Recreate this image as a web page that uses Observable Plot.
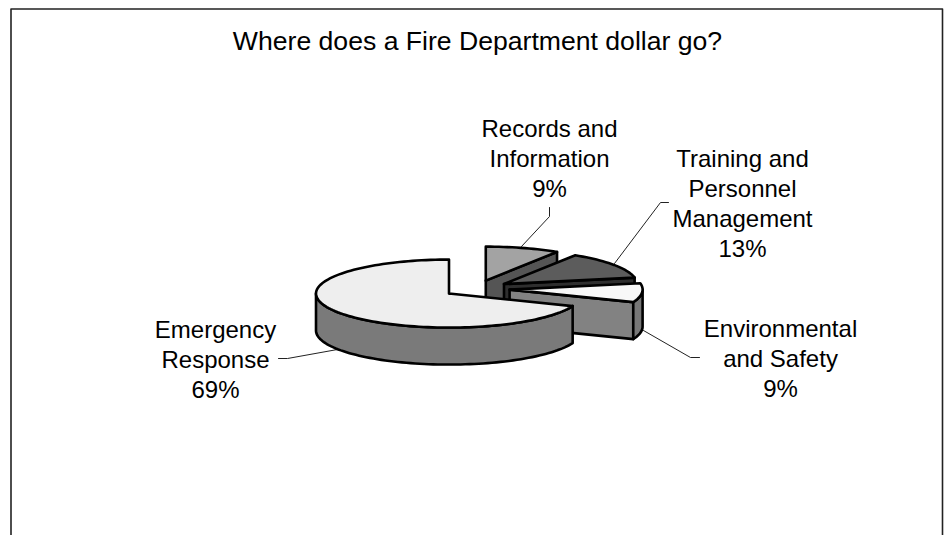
<!DOCTYPE html>
<html>
<head>
<meta charset="utf-8">
<script src="https://cdn.jsdelivr.net/npm/d3@7"></script>
<script src="https://cdn.jsdelivr.net/npm/@observablehq/plot@0.6"></script>
<style>
  html, body { margin: 0; padding: 0; background: #fff; }
  svg { display: block; }
</style>
</head>
<body>
<div id="chart"></div>
<script>
// Budget shares, clockwise from twelve o'clock
const categories = ["Records and\nInformation", "Training and\nPersonnel\nManagement", "Environmental\nand Safety", "Emergency\nResponse"];
const shares = [9, 13, 9, 69];
const chartTitle = "Where does a Fire Department dollar go?";

// Greys for each slice: top face, cut wall, rim wall
const topFills = ["#a3a3a3", "#5c5c5c", "#f8f8f8", "#eeeeee"];
const cutFills = ["#555555", "#2e2e2e", "#828282", "#777777"];
const rimFills = ["#555555", "#2e2e2e", "#777777", "#7a7a7a"];

// Label centres and leader paths, in chart pixels
const labelCentres = [[549, 157], [742, 202], [780, 357], [215, 357.5]];
const leaders = [
  [[521, 246], [549, 216], [549, 207]],
  [[614, 263], [660, 202], [668, 202]],
  [[643, 330], [690, 357], [699, 357]],
  [[337, 349], [287, 358], [278, 358]]
];

// Pie projection
const pie = {cx: 476, cy: 288.3, rx: 133, ry: 34, depth: 37, explode: 0.25};
const rad = (deg) => (deg * Math.PI) / 180;

// Point on a slice's rim, with angle measured clockwise from the top
const rimPoint = (o, deg, drop = 0) => ({
  x: o.x + pie.rx * Math.sin(rad(deg)),
  y: o.y - pie.ry * Math.cos(rad(deg)) + drop
});
const arc = (o, from, to, drop = 0) => {
  const n = Math.max(2, Math.ceil(Math.abs(to - from) / 2));
  return d3.range(n + 1).map((i) => rimPoint(o, from + ((to - from) * i) / n, drop));
};

const total = d3.sum(shares);
const ends = Array.from(d3.cumsum(shares), (v) => (v / total) * 360);

const outline = {stroke: "#000", strokeWidth: 2.6, strokeLinejoin: "round", x: "x", y: "y"};
const face = (points, fill) => Plot.line([...points, points[0]], {...outline, fill});

// Each slice draws its front-facing walls, then its top; back slices come first
const sliceMarks = shares.flatMap((share, i) => {
  const start = i ? ends[i - 1] : 0;
  const end = ends[i];
  const mid = rad((start + end) / 2);
  const o = {
    x: pie.cx + pie.explode * pie.rx * Math.sin(mid),
    y: pie.cy - pie.explode * pie.ry * Math.cos(mid)
  };
  const marks = [];
  if (end < 180) {
    const corner = rimPoint(o, end);
    marks.push(face([
      {x: o.x, y: o.y},
      corner,
      {x: corner.x, y: corner.y + pie.depth},
      {x: o.x, y: o.y + pie.depth}
    ], cutFills[i]));
  }
  const a = Math.max(start, 90);
  const b = Math.min(end, 270);
  if (b > a) {
    marks.push(face([...arc(o, a, b), ...arc(o, b, a, pie.depth)], rimFills[i]));
  }
  marks.push(face([{x: o.x, y: o.y}, ...arc(o, start, end)], topFills[i]));
  return marks;
});

const labels = categories.map((name, i) => ({
  text: `${name}\n${shares[i]}%`,
  x: labelCentres[i][0],
  y: labelCentres[i][1]
}));

const frame = [
  {x: 10.5, y: 535},
  {x: 10.5, y: 8.5},
  {x: 942, y: 8.5},
  {x: 942, y: 535}
];

const chart = Plot.plot({
  width: 944,
  height: 535,
  margin: 0,
  style: {background: "#fff"},
  x: {type: "linear", domain: [0, 944], range: [0, 944], axis: null},
  y: {type: "linear", domain: [0, 535], range: [0, 535], axis: null},
  marks: [
    Plot.line(frame, {x: "x", y: "y", stroke: "#222", strokeWidth: 1.6}),
    ...leaders.map((path) => Plot.line(path, {x: "0", y: "1", stroke: "#222", strokeWidth: 1})),
    ...sliceMarks,
    Plot.text([chartTitle], {
      x: () => 477, y: () => 40.5, text: (d) => d,
      fontFamily: "Liberation Sans", fontSize: 26.6, fill: "#000"
    }),
    Plot.text(labels, {
      x: "x", y: "y", text: "text",
      fontFamily: "Liberation Sans", fontSize: 24, lineHeight: 1.25, fill: "#000"
    })
  ]
});
document.getElementById("chart").append(chart);
</script>
</body>
</html>
